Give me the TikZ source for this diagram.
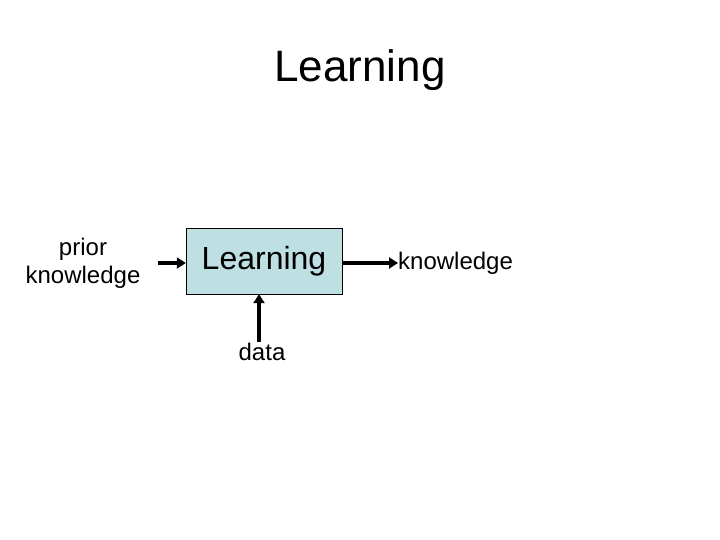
\documentclass[tikz,border=0pt]{standalone}
\usepackage{fontspec}
\setmainfont{Liberation Sans}
\usetikzlibrary{arrows.meta}
\definecolor{boxc}{HTML}{BFE0E3}
\begin{document}
\begin{tikzpicture}[x=1pt,y=-1pt,
  conn/.style={line width=3.5pt,-{Triangle[length=9pt,width=11pt]}},
  lbl/.style={font=\fontsize{24}{28}\selectfont,align=center,inner sep=0}]
\useasboundingbox (0,0) rectangle (720,540);
\node[font=\fontsize{44}{50}\selectfont] (title) at (360,70) {Learning};
\node[draw=black,fill=boxc,minimum width=156pt,minimum height=66pt,inner sep=0,
  font=\fontsize{32}{38}\selectfont] (box) at (264,261) {Learning};
\node[lbl] (prior) at (83,263) {prior\\knowledge};
\node[lbl,anchor=west] (know) at (398,263) {knowledge};
\node[lbl] (data) at (262,352) {data};
\coordinate (ls) at (158,263);
\coordinate (ds) at (259,342);
\draw[conn] (ls) -- (box.west|-ls);
\draw[conn] (box.east|-ls) -- (know.west);
\draw[conn] (ds) -- (ds|-box.south);
\end{tikzpicture}
\end{document}
